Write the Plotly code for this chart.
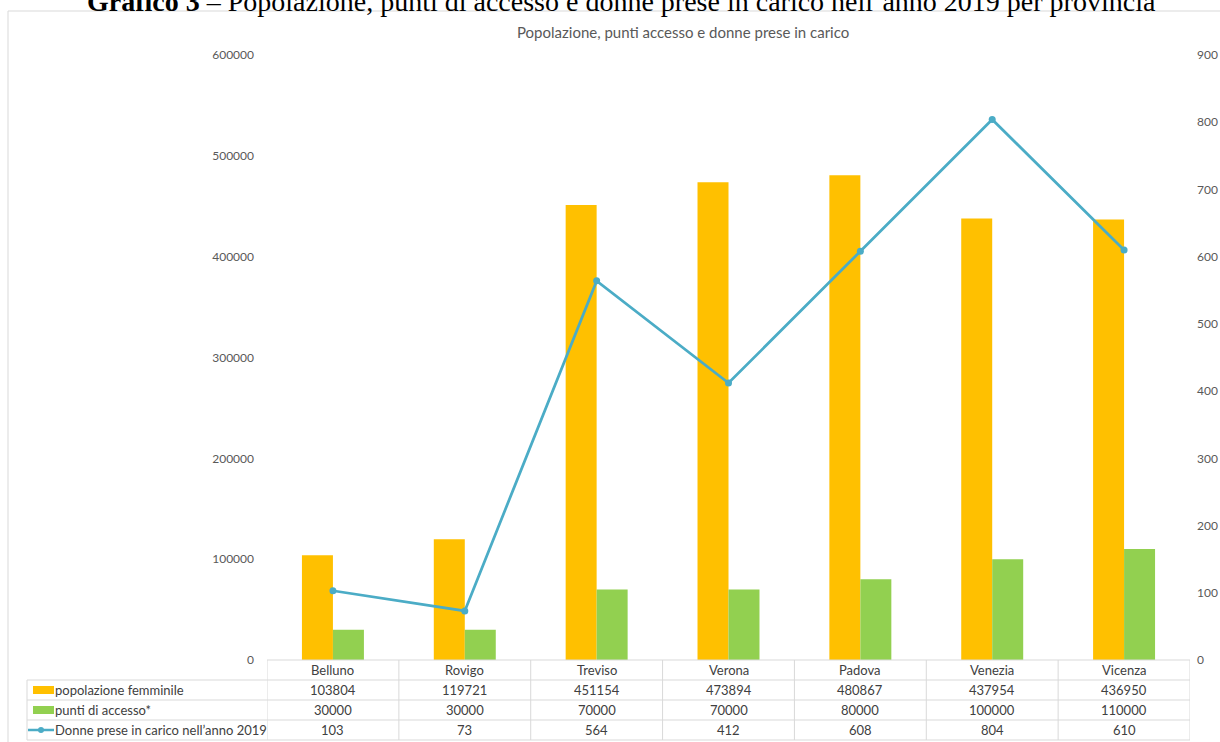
import plotly.graph_objects as go

province = ["Belluno", "Rovigo", "Treviso", "Verona", "Padova", "Venezia", "Vicenza"]
popolazione = [103804, 119721, 451154, 473894, 480867, 437954, 436950]
punti = [30000, 30000, 70000, 70000, 80000, 100000, 110000]
donne = [103, 73, 564, 412, 608, 804, 610]
series_names = ["popolazione femminile", "punti di accesso*", "Donne prese in carico nell’anno 2019"]

C_OR = "#FFC000"
C_GR = "#92D050"
C_LN = "#4BACC6"
GRID = "#D9D9D9"
TXT = "#404040"
AX = "#595959"
FONT = "Lato"

W, H = 1220, 742
L, R, T, B = 267, 30, 55, 82
PW, PH = W - L - R, H - T - B


def px(p):
    return (p - L) / PW


def py(p):
    return (H - B - p) / PH


fig = go.Figure()
fig.add_trace(go.Bar(x=province, y=popolazione, name=series_names[0], marker_color=C_OR,
                     marker_line_width=0))
fig.add_trace(go.Bar(x=province, y=punti, name=series_names[1], marker_color=C_GR,
                     marker_line_width=0))
fig.add_trace(go.Scatter(x=province, y=donne, name=series_names[2], yaxis="y2",
                         mode="lines+markers", line=dict(color=C_LN, width=2.75),
                         marker=dict(color=C_LN, size=7)))

shapes = []
ann = []

# outer frame
shapes.append(dict(type="rect", xref="paper", yref="paper", x0=px(8), x1=px(1230),
                   y0=py(750), y1=py(11), line=dict(color=GRID, width=1), layer="below"))

# table horizontal lines
shapes.append(dict(type="line", xref="x", yref="paper", x0=-0.5, x1=len(province) - 0.5,
                   y0=py(660), y1=py(660), line=dict(color=GRID, width=1)))
for yy in [680, 700, 720, 740]:
    shapes.append(dict(type="line", xref="paper", yref="paper", x0=px(27), x1=1,
                       y0=py(yy), y1=py(yy), line=dict(color=GRID, width=1)))
# vertical lines
shapes.append(dict(type="line", xref="paper", yref="paper", x0=px(27), x1=px(27),
                   y0=py(680), y1=py(740), line=dict(color=GRID, width=1)))
for k in range(len(province) + 1):
    shapes.append(dict(type="line", xref="x", yref="paper", x0=k - 0.5, x1=k - 0.5,
                       y0=py(660), y1=py(740), line=dict(color=GRID, width=1)))

# legend keys
shapes.append(dict(type="rect", xref="paper", yref="paper", x0=px(33), x1=px(54),
                   y0=py(694), y1=py(686), fillcolor=C_OR, line_width=0))
shapes.append(dict(type="rect", xref="paper", yref="paper", x0=px(33), x1=px(54),
                   y0=py(714), y1=py(706), fillcolor=C_GR, line_width=0))
shapes.append(dict(type="line", xref="paper", yref="paper", x0=px(28), x1=px(54),
                   y0=py(730), y1=py(730), line=dict(color=C_LN, width=2.5)))
shapes.append(dict(type="circle", xref="paper", yref="paper", x0=px(38), x1=px(44),
                   y0=py(733), y1=py(727), fillcolor=C_LN, line_width=0))

rows = [(670, None), (690, popolazione), (710, punti), (730, donne)]
TFONT = dict(family=FONT, size=13, color=TXT)
for i, p in enumerate(province):
    ann.append(dict(x=p, xref="x", y=py(670), yref="paper", text=p, showarrow=False,
                    xanchor="center", yanchor="middle", font=TFONT))
    for yy, arr in rows[1:]:
        ann.append(dict(x=p, xref="x", y=py(yy), yref="paper", text=str(arr[i]), showarrow=False,
                        xanchor="center", yanchor="middle", font=TFONT))

for (yy, _), name in zip(rows[1:], series_names):
    ann.append(dict(x=px(53), xref="paper", y=py(yy), yref="paper", text=name, showarrow=False,
                    xanchor="left", yanchor="middle", font=TFONT))

# titles
ann.append(dict(x=px(621), xref="paper", y=py(19), yref="paper",
                text="<b>Grafico 3</b> – Popolazione, punti di accesso e donne prese in carico nell’anno 2019 per provincia",
                showarrow=False, xanchor="center", yanchor="bottom",
                font=dict(family="Liberation Serif", size=28, color="#000000")))
ann.append(dict(x=px(683), xref="paper", y=py(32), yref="paper",
                text="Popolazione, punti accesso e donne prese in carico",
                showarrow=False, xanchor="center", yanchor="middle",
                font=dict(family=FONT, size=15, color=AX)))

fig.update_layout(
    width=W, height=H,
    margin=dict(l=L, r=R, t=T, b=B, autoexpand=False),
    paper_bgcolor="white", plot_bgcolor="white",
    barmode="group", bargap=0.53, bargroupgap=0,
    showlegend=False,
    font=dict(family=FONT, size=12, color=AX),
    xaxis=dict(range=[-0.5, len(province) - 0.5], showticklabels=False, showline=False,
               showgrid=False, zeroline=False, ticks="", automargin=False),
    yaxis=dict(range=[0, 600000], dtick=100000, showgrid=False, zeroline=False, showline=False,
               tickfont=dict(family=FONT, size=12, color=AX), ticklabelstandoff=12,
               tickformat="d", automargin=False),
    yaxis2=dict(range=[0, 900], dtick=100, overlaying="y", side="right", showgrid=False,
                zeroline=False, showline=False, tickfont=dict(family=FONT, size=12, color=AX),
                ticklabelstandoff=6, automargin=False),
    shapes=shapes,
    annotations=ann,
)

fig.write_html("out.html")
